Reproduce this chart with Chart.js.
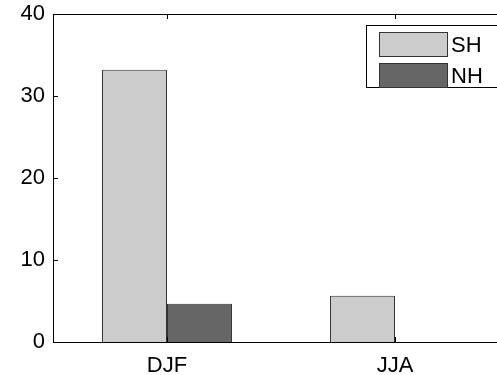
<!DOCTYPE html>
<html>
<head>
<meta charset="utf-8">
<script src="https://cdn.jsdelivr.net/npm/chart.js@4/dist/chart.umd.min.js"></script>
<style>
html,body{margin:0;padding:0;overflow:hidden;background:#fff;}
#wrap{width:520px;height:375px;position:relative;}
</style>
</head>
<body>
<div id="wrap"><canvas id="c"></canvas></div>
<script>
const categories = ["DJF", "JJA"];
const seriesNames = ["SH", "NH"];
const shValues = [33.2, 5.65];
const nhValues = [4.65, 0];
const yTicks = [0, 10, 20, 30, 40];

const FONT = "'Liberation Sans', Arial, Helvetica, sans-serif";

const framePlugin = {
  id: 'frame',
  afterDatasetsDraw(chart) {
    const ctx = chart.ctx;
    const a = chart.chartArea;
    const x = chart.scales.x, y = chart.scales.y;
    ctx.save();
    ctx.strokeStyle = '#000';
    ctx.lineWidth = 1;
    ctx.beginPath();
    ctx.rect(Math.round(a.left) + 0.5, Math.round(a.top) + 0.5, Math.round(a.right - a.left), Math.round(a.bottom - a.top));
    ctx.stroke();
    const tl = 5;
    ctx.beginPath();
    yTicks.forEach(v => {
      const py = Math.round(y.getPixelForValue(v)) + 0.5;
      ctx.moveTo(a.left, py); ctx.lineTo(a.left + tl, py);
      ctx.moveTo(a.right, py); ctx.lineTo(a.right - tl, py);
    });
    categories.forEach((c, i) => {
      const px = Math.round(x.getPixelForValue(i)) + 0.5;
      ctx.moveTo(px, a.bottom); ctx.lineTo(px, a.bottom - tl);
      ctx.moveTo(px, a.top); ctx.lineTo(px, a.top + tl);
    });
    ctx.stroke();
    const lx = 366.5, ly = 25.5, lw = 200, lh = 62;
    ctx.fillStyle = '#fff';
    ctx.fillRect(lx, ly, lw, lh);
    ctx.strokeRect(lx, ly, lw, lh);
    chart.data.datasets.forEach((ds, i) => {
      const sy = 32.5 + i * 31;
      ctx.fillStyle = ds.backgroundColor;
      ctx.fillRect(379.5, sy, 68, 24);
      ctx.strokeStyle = '#333';
      ctx.strokeRect(379.5, sy, 68, 24);
      ctx.fillStyle = '#000';
      ctx.font = '22px ' + FONT;
      ctx.textBaseline = 'middle';
      ctx.textAlign = 'left';
      ctx.fillText(ds.label, 451, sy + 13);
    });
    ctx.restore();
  }
};

new Chart(document.getElementById('c'), {
  type: 'bar',
  data: {
    labels: categories,
    datasets: [
      { label: seriesNames[0], data: shValues, backgroundColor: '#cccccc', borderColor: '#333333', borderWidth: 1 },
      { label: seriesNames[1], data: nhValues, backgroundColor: '#666666', borderColor: '#333333', borderWidth: 1 }
    ]
  },
  options: {
    responsive: true,
    maintainAspectRatio: false,
    animation: false,
    devicePixelRatio: 1,
    layout: { padding: { left: 0, right: 11, top: 14, bottom: 0 } },
    plugins: { legend: { display: false }, tooltip: { enabled: false } },
    datasets: { bar: { categoryPercentage: 0.57, barPercentage: 1.0 } },
    scales: {
      x: {
        offset: true,
        grid: { display: false, drawTicks: false },
        border: { display: false },
        ticks: { color: '#000', font: { family: FONT, size: 22 }, padding: 11 },
        afterFit(s) { s.height = 33; s.paddingLeft = 0; s.paddingRight = 0; }
      },
      y: {
        min: 0, max: 40,
        afterBuildTicks(s) { s.ticks = yTicks.map(v => ({ value: v })); },
        grid: { display: false, drawTicks: false },
        border: { display: false },
        ticks: { color: '#000', font: { family: FONT, size: 22 }, padding: 8 },
        afterFit(s) { s.width = 53; s.paddingTop = 0; s.paddingBottom = 0; }
      }
    }
  },
  plugins: [framePlugin]
});
</script>
</body>
</html>
